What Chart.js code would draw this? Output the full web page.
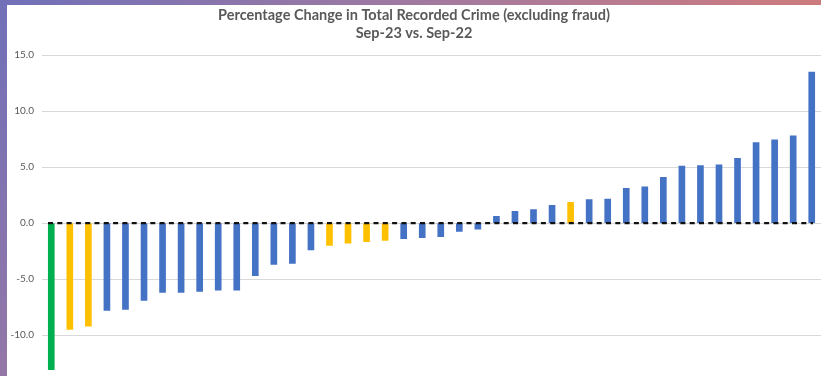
<!DOCTYPE html>
<html>
<head>
<meta charset="utf-8">
<script src="https://cdn.jsdelivr.net/npm/chart.js@4.4.1/dist/chart.umd.min.js"></script>
<style>
  html, body { margin: 0; padding: 0; overflow: hidden; }
  body {
    width: 821px; height: 376px; position: relative;
    background: linear-gradient(129deg, #7070b9 0%, #a47a9e 40%, #c57b86 65%, #e07a55 100%);
  }
  #panel {
    position: absolute; left: 7px; top: 5px; width: 814px; height: 410px;
    background: #ffffff;
  }
  canvas { display: block; }
</style>
</head>
<body>
<div id="panel"><canvas id="chart" width="814" height="400"></canvas></div>
<script>
// Forces ranked by percentage change, Sep-23 vs. Sep-22
const categories = Array.from({ length: 42 }, (_, i) => String(i + 1));

const pctChange = [
  -13.1, -9.5, -9.2, -7.8, -7.7, -6.9, -6.2, -6.2, -6.1, -6.0,
  -6.0, -4.7, -3.7, -3.6, -2.4, -2.0, -1.8, -1.65, -1.55, -1.4,
  -1.3, -1.2, -0.75, -0.55, 0.6, 1.05, 1.2, 1.6, 1.85, 2.1,
  2.15, 3.1, 3.25, 4.1, 5.1, 5.15, 5.2, 5.8, 7.2, 7.45,
  7.8, 13.5
];

// Bar group: G = highlighted force, Y = comparison group, B = other forces
const barGroup = [
  'G', 'Y', 'Y', 'B', 'B', 'B', 'B', 'B', 'B', 'B',
  'B', 'B', 'B', 'B', 'B', 'Y', 'Y', 'Y', 'Y', 'B',
  'B', 'B', 'B', 'B', 'B', 'B', 'B', 'B', 'Y', 'B',
  'B', 'B', 'B', 'B', 'B', 'B', 'B', 'B', 'B', 'B',
  'B', 'B'
];

const yTicks = [-15, -10, -5, 0, 5, 10, 15];

const groupColours = { G: '#00b050', Y: '#ffc000', B: '#4472c4' };

// Dashed horizontal axis at zero, drawn over the bars
const zeroLine = {
  id: 'zeroLine',
  afterDatasetsDraw(chart) {
    const { ctx, chartArea, scales } = chart;
    const y = scales.y.getPixelForValue(0);
    ctx.save();
    ctx.strokeStyle = '#111111';
    ctx.lineWidth = 2.2;
    ctx.setLineDash([5, 4.3]);
    ctx.beginPath();
    ctx.moveTo(chartArea.left + 6, y);
    ctx.lineTo(chartArea.right - 8, y);
    ctx.stroke();
    ctx.restore();
  }
};

new Chart(document.getElementById('chart'), {
  type: 'bar',
  data: {
    labels: categories,
    datasets: [{
      data: pctChange,
      backgroundColor: barGroup.map(g => groupColours[g]),
      borderWidth: 0,
      barThickness: 6,
      categoryPercentage: 1,
      barPercentage: 1
    }]
  },
  options: {
    responsive: false,
    animation: false,
    layout: { padding: { left: 0, right: 0, top: 0, bottom: 0 } },
    plugins: {
      legend: { display: false },
      tooltip: { enabled: false },
      title: {
        display: true,
        text: ['Percentage Change in Total Recorded Crime (excluding fraud)', 'Sep-23 vs. Sep-22'],
        color: '#595959',
        font: { family: 'Lato', size: 14.5, weight: 'bold', lineHeight: 1.25 },
        padding: { top: 1, bottom: 13 }
      }
    },
    scales: {
      x: {
        grid: { display: false },
        border: { display: false },
        ticks: { display: false },
        afterFit(scale) { scale.height = 8; }
      },
      y: {
        min: -15,
        max: 15,
        afterBuildTicks(scale) { scale.ticks = yTicks.map(v => ({ value: v })); },
        grid: { color: '#d9d9d9', lineWidth: 1, drawTicks: false },
        border: { display: false },
        ticks: {
          color: '#595959',
          font: { family: 'Lato', size: 10 },
          padding: 8,
          callback: v => v.toFixed(1)
        },
        afterFit(scale) { scale.width = 35; }
      }
    }
  },
  plugins: [zeroLine]
});
</script>
</body>
</html>
